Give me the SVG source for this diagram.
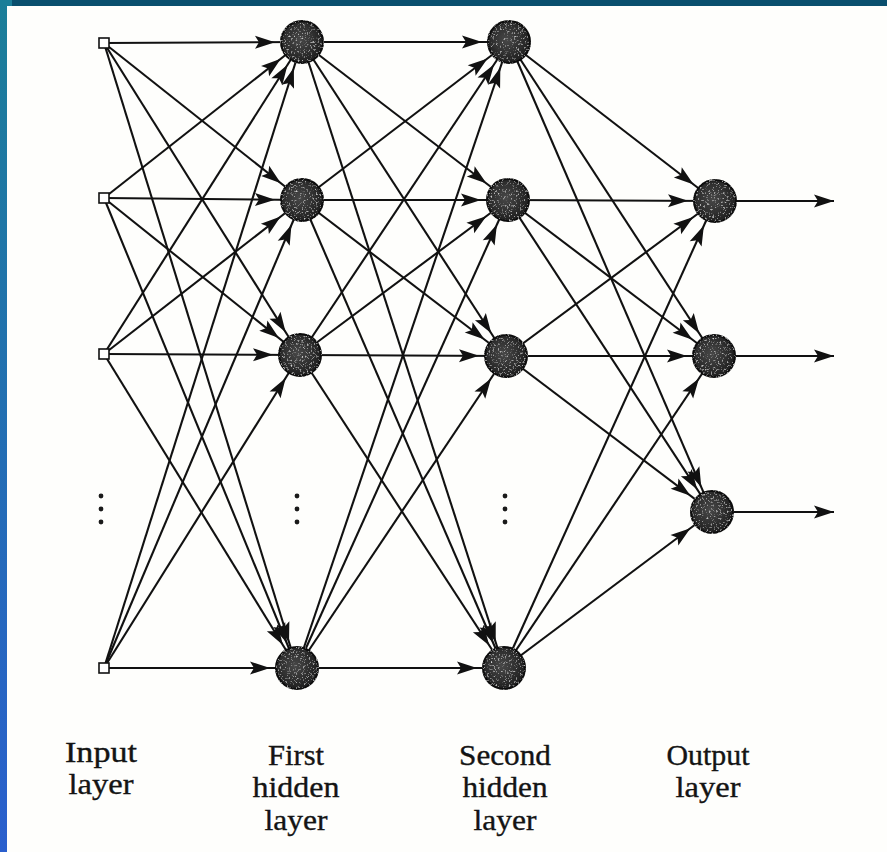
<svg xmlns="http://www.w3.org/2000/svg" width="887" height="852" viewBox="0 0 887 852">
  <style>
    .edge { stroke: #111111; stroke-width: 2.1; fill: none; marker-end: url(#head); }
    .out { stroke: #111111; stroke-width: 2.1; fill: none; marker-end: url(#headTip); }
    .neuron { fill: url(#ball); stroke: #0a0a0a; stroke-width: 2; filter: url(#grain); }
    .src { fill: #ffffff; stroke: #111111; stroke-width: 1.6; }
    .dot { fill: #1a1a1a; }
    .label { font-family: "Liberation Serif", "Times New Roman", serif; font-size: 29px; fill: #141414; stroke: #141414; stroke-width: 0.35; text-anchor: middle; }
  </style>
  <defs>
    <linearGradient id="sideBar" x1="0" y1="0" x2="0" y2="1">
      <stop offset="0" stop-color="#1b7e98"/>
      <stop offset="1" stop-color="#2a5fcd"/>
    </linearGradient>
    <radialGradient id="ball" cx="0.45" cy="0.45" r="0.6">
      <stop offset="0" stop-color="#484848"/>
      <stop offset="1" stop-color="#1c1c1c"/>
    </radialGradient>
    <filter id="grain" x="-0.2" y="-0.2" width="1.4" height="1.4">
      <feTurbulence type="fractalNoise" baseFrequency="0.55" numOctaves="2" seed="7" result="n"/>
      <feColorMatrix in="n" type="matrix" values="0 0 0 0 0.7  0 0 0 0 0.7  0 0 0 0 0.7  3 0 0 0 -1.75" result="s"/>
      <feComposite in="s" in2="SourceAlpha" operator="in" result="sp"/>
      <feMerge><feMergeNode in="SourceGraphic"/><feMergeNode in="sp"/></feMerge>
    </filter>
    <!-- arrowhead whose tip stops short of the target neuron (r + gap = 27) -->
    <marker id="head" markerUnits="userSpaceOnUse" orient="auto" markerWidth="200" markerHeight="40" viewBox="0 -20 200 40" refX="127" refY="0" overflow="visible">
      <path d="M100,0 L80,-6.5 L84,0 L80,6.5 Z" fill="#111111"/>
    </marker>
    <!-- arrowhead with tip at the line end -->
    <marker id="headTip" markerUnits="userSpaceOnUse" orient="auto" markerWidth="200" markerHeight="40" viewBox="0 -20 200 40" refX="100" refY="0" overflow="visible">
      <path d="M100,0 L80,-6.5 L84,0 L80,6.5 Z" fill="#111111"/>
    </marker>
  </defs>

  <!-- page and frame -->
  <rect x="0" y="0" width="887" height="852" fill="#fefefc"/>
  <rect x="0" y="0" width="887" height="6" fill="#0a4f6e"/>
  <rect x="0" y="0" width="7" height="852" fill="url(#sideBar)"/>
  <rect x="0" y="0" width="12" height="6" fill="#1b7e98"/>

  <g id="connectors">
    <!-- input layer to first hidden layer -->
    <line class="edge" x1="104" y1="43" x2="302" y2="42"/>
    <line class="edge" x1="104" y1="43" x2="302" y2="200"/>
    <line class="edge" x1="104" y1="43" x2="300" y2="355"/>
    <line class="edge" x1="104" y1="43" x2="297" y2="668"/>
    <line class="edge" x1="104" y1="198" x2="302" y2="42"/>
    <line class="edge" x1="104" y1="198" x2="302" y2="200"/>
    <line class="edge" x1="104" y1="198" x2="300" y2="355"/>
    <line class="edge" x1="104" y1="198" x2="297" y2="668"/>
    <line class="edge" x1="104" y1="354" x2="302" y2="42"/>
    <line class="edge" x1="104" y1="354" x2="302" y2="200"/>
    <line class="edge" x1="104" y1="354" x2="300" y2="355"/>
    <line class="edge" x1="104" y1="354" x2="297" y2="668"/>
    <line class="edge" x1="104" y1="668" x2="302" y2="42"/>
    <line class="edge" x1="104" y1="668" x2="302" y2="200"/>
    <line class="edge" x1="104" y1="668" x2="300" y2="355"/>
    <line class="edge" x1="104" y1="668" x2="297" y2="668"/>
    <!-- first hidden layer to second hidden layer -->
    <line class="edge" x1="302" y1="42" x2="509" y2="42"/>
    <line class="edge" x1="302" y1="42" x2="508" y2="200"/>
    <line class="edge" x1="302" y1="42" x2="506" y2="356"/>
    <line class="edge" x1="302" y1="42" x2="504" y2="668"/>
    <line class="edge" x1="302" y1="200" x2="509" y2="42"/>
    <line class="edge" x1="302" y1="200" x2="508" y2="200"/>
    <line class="edge" x1="302" y1="200" x2="506" y2="356"/>
    <line class="edge" x1="302" y1="200" x2="504" y2="668"/>
    <line class="edge" x1="300" y1="355" x2="509" y2="42"/>
    <line class="edge" x1="300" y1="355" x2="508" y2="200"/>
    <line class="edge" x1="300" y1="355" x2="506" y2="356"/>
    <line class="edge" x1="300" y1="355" x2="504" y2="668"/>
    <line class="edge" x1="297" y1="668" x2="509" y2="42"/>
    <line class="edge" x1="297" y1="668" x2="508" y2="200"/>
    <line class="edge" x1="297" y1="668" x2="506" y2="356"/>
    <line class="edge" x1="297" y1="668" x2="504" y2="668"/>
    <!-- second hidden layer to output layer -->
    <line class="edge" x1="509" y1="42" x2="715" y2="201"/>
    <line class="edge" x1="509" y1="42" x2="714" y2="356"/>
    <line class="edge" x1="509" y1="42" x2="712" y2="512"/>
    <line class="edge" x1="508" y1="200" x2="715" y2="201"/>
    <line class="edge" x1="508" y1="200" x2="714" y2="356"/>
    <line class="edge" x1="508" y1="200" x2="712" y2="512"/>
    <line class="edge" x1="506" y1="356" x2="715" y2="201"/>
    <line class="edge" x1="506" y1="356" x2="714" y2="356"/>
    <line class="edge" x1="506" y1="356" x2="712" y2="512"/>
    <line class="edge" x1="504" y1="668" x2="715" y2="201"/>
    <line class="edge" x1="504" y1="668" x2="714" y2="356"/>
    <line class="edge" x1="504" y1="668" x2="712" y2="512"/>
    <!-- output signals -->
    <line class="out" x1="715" y1="201" x2="834" y2="201"/>
    <line class="out" x1="714" y1="356" x2="834" y2="356"/>
    <line class="out" x1="712" y1="512" x2="834" y2="512"/>
  </g>

  <g id="input-layer">
    <rect class="src" x="99" y="38" width="10" height="10"/>
    <rect class="src" x="99" y="193" width="10" height="10"/>
    <rect class="src" x="99" y="349" width="10" height="10"/>
    <rect class="src" x="99" y="663" width="10" height="10"/>
    <circle class="dot" cx="101" cy="496" r="2.4"/>
    <circle class="dot" cx="101" cy="509" r="2.4"/>
    <circle class="dot" cx="101" cy="522" r="2.4"/>
  </g>

  <g id="hidden-layer-1">
    <circle class="neuron" cx="302" cy="42" r="21"/>
    <circle class="neuron" cx="302" cy="200" r="21"/>
    <circle class="neuron" cx="300" cy="355" r="21"/>
    <circle class="neuron" cx="297" cy="668" r="21"/>
    <circle class="dot" cx="297" cy="496" r="2.4"/>
    <circle class="dot" cx="297" cy="509" r="2.4"/>
    <circle class="dot" cx="297" cy="522" r="2.4"/>
  </g>

  <g id="hidden-layer-2">
    <circle class="neuron" cx="509" cy="42" r="21"/>
    <circle class="neuron" cx="508" cy="200" r="21"/>
    <circle class="neuron" cx="506" cy="356" r="21"/>
    <circle class="neuron" cx="504" cy="668" r="21"/>
    <circle class="dot" cx="505" cy="496" r="2.4"/>
    <circle class="dot" cx="505" cy="509" r="2.4"/>
    <circle class="dot" cx="505" cy="522" r="2.4"/>
  </g>

  <g id="output-layer">
    <circle class="neuron" cx="715" cy="201" r="21"/>
    <circle class="neuron" cx="714" cy="356" r="21"/>
    <circle class="neuron" cx="712" cy="512" r="21"/>
  </g>

  <g id="labels">
    <text class="label" x="101" y="762" textLength="72" lengthAdjust="spacingAndGlyphs">Input</text>
    <text class="label" x="101" y="794" textLength="65" lengthAdjust="spacingAndGlyphs">layer</text>
    <text class="label" x="296" y="765" textLength="56" lengthAdjust="spacingAndGlyphs">First</text>
    <text class="label" x="296" y="797" textLength="87" lengthAdjust="spacingAndGlyphs">hidden</text>
    <text class="label" x="296" y="830" textLength="63" lengthAdjust="spacingAndGlyphs">layer</text>
    <text class="label" x="505" y="765" textLength="92" lengthAdjust="spacingAndGlyphs">Second</text>
    <text class="label" x="505" y="797" textLength="85" lengthAdjust="spacingAndGlyphs">hidden</text>
    <text class="label" x="505" y="830" textLength="63" lengthAdjust="spacingAndGlyphs">layer</text>
    <text class="label" x="708" y="765" textLength="83" lengthAdjust="spacingAndGlyphs">Output</text>
    <text class="label" x="708" y="797" textLength="65" lengthAdjust="spacingAndGlyphs">layer</text>
  </g>
</svg>
